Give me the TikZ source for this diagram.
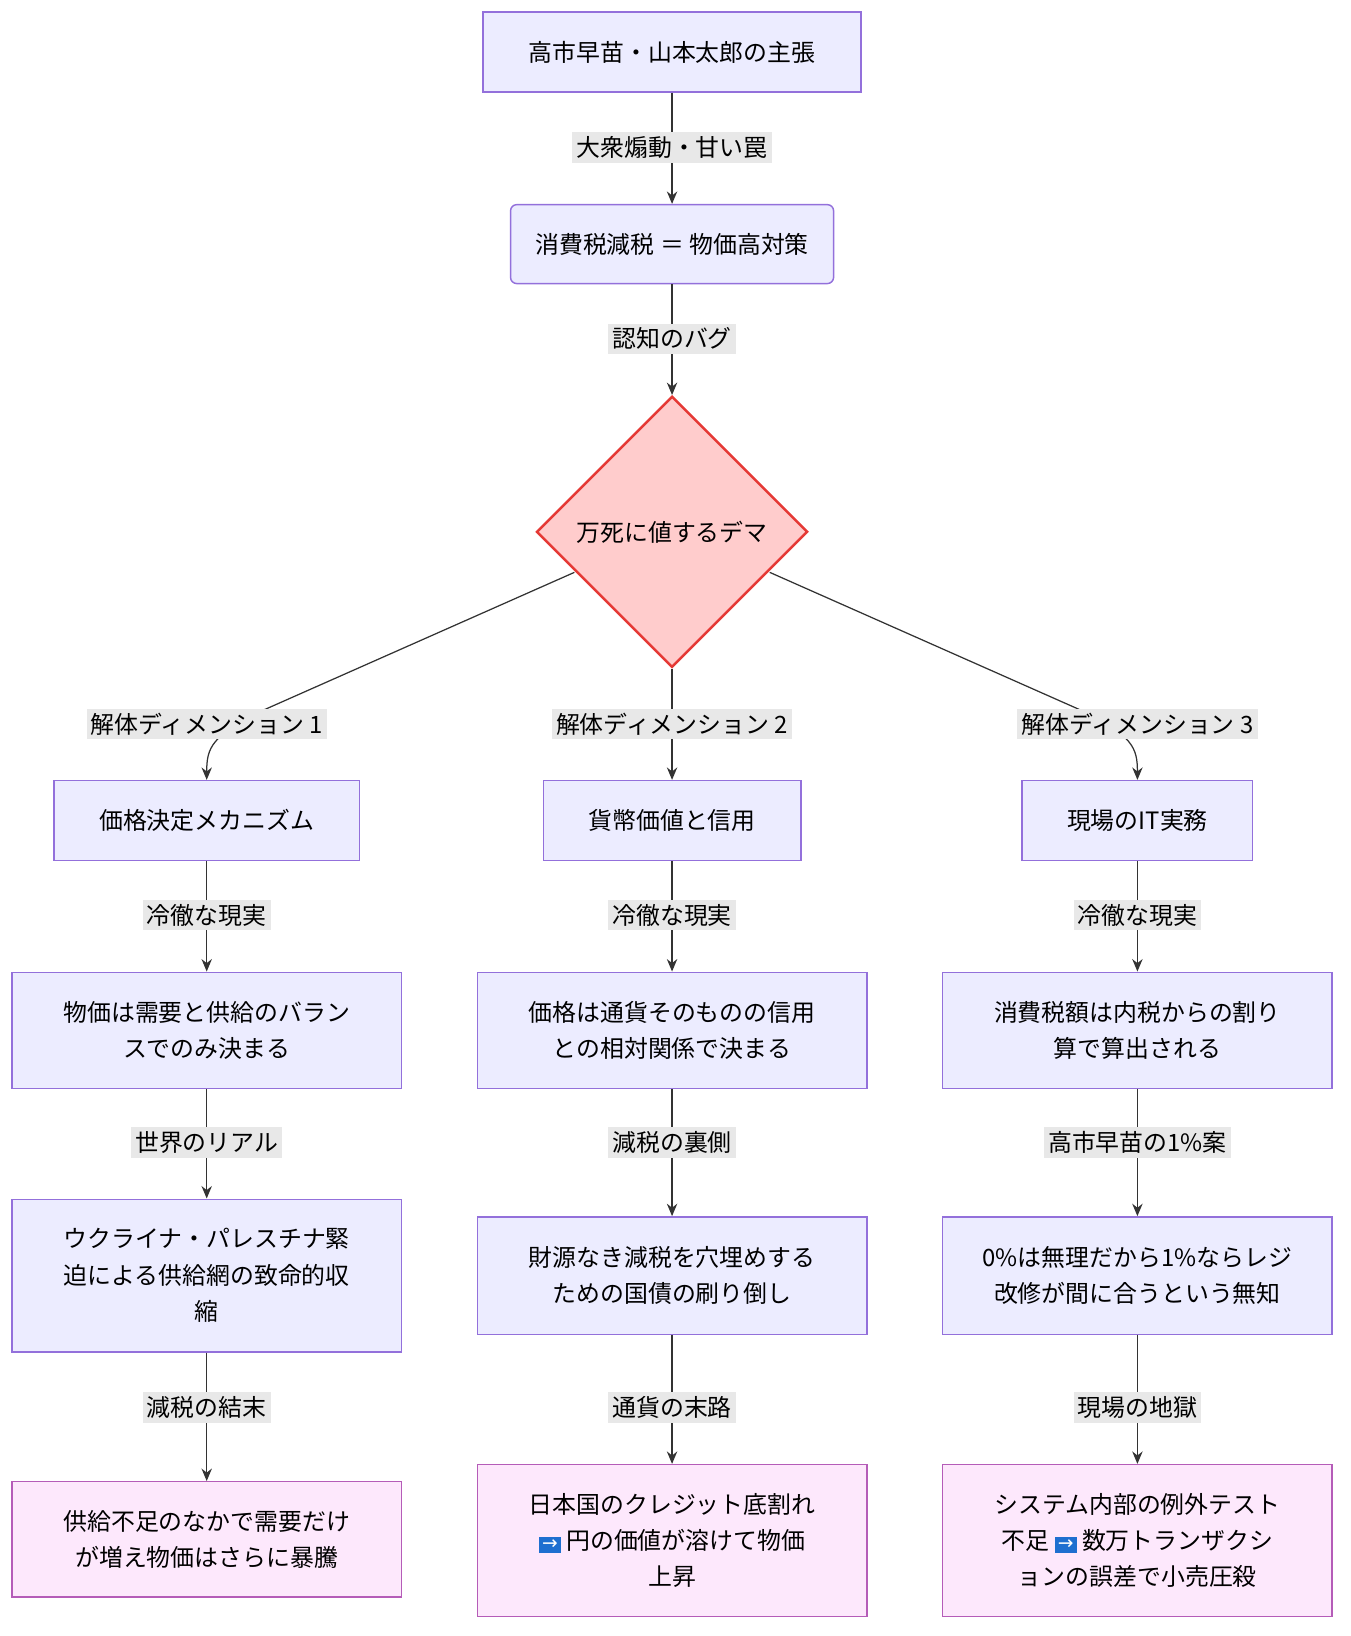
\documentclass[tikz,border=0pt]{standalone}
\usepackage{fontspec}
\setmainfont{Noto Sans CJK JP}
\newfontfamily\dvs{DejaVu Sans}
\usetikzlibrary{shapes.geometric,arrows.meta}
\definecolor{nfill}{HTML}{ECECFF}\definecolor{nline}{HTML}{9370DB}
\definecolor{pfill}{HTML}{FDE8FC}\definecolor{pline}{HTML}{B55CB8}
\definecolor{rfill}{HTML}{FFCCCC}\definecolor{rline}{HTML}{E53935}
\definecolor{lbl}{HTML}{E8E8E8}\definecolor{edge}{HTML}{333333}
\definecolor{emo}{HTML}{1E6FD0}
\newcommand{\arr}{{\setlength{\fboxsep}{1.5pt}\colorbox{emo}{\color{white}\dvs\small →}}}
\tikzset{
 box/.style={draw=nline,fill=nfill,line width=0.7pt,align=center,font=\fontsize{11.5}{17.5}\selectfont,inner sep=0pt},
 pbox/.style={box,draw=pline,fill=pfill},
 lab/.style={fill=lbl,font=\fontsize{11.5}{14}\selectfont,inner sep=2pt},
 e/.style={draw=edge,line width=0.6pt,-{Stealth[length=6pt,width=5pt]}}
}
\begin{document}
\begin{tikzpicture}[x=0.5pt,y=-0.5pt]
\useasboundingbox (0,0) rectangle (1300,1575);
\node[box,minimum width=182pt,minimum height=38.5pt] (a) at (647,50) {高市早苗・山本太郎の主張};
\node[box,rounded corners=3pt,minimum width=155.5pt,minimum height=38pt] (b) at (647,235) {消費税減税 ＝ 物価高対策};
\node[draw=rline,fill=rfill,line width=1.2pt,diamond,minimum width=130.5pt,minimum height=130.5pt,aspect=1,inner sep=0pt,font=\fontsize{11.5}{14}\selectfont] (c) at (647,512) {万死に値するデマ};
\node[box,minimum width=147pt,minimum height=38.5pt] (l1) at (199,790) {価格決定メカニズム};
\node[box,minimum width=124pt,minimum height=38.5pt] (m1) at (647,790) {貨幣価値と信用};
\node[box,minimum width=111pt,minimum height=38.5pt] (r1) at (1095,790) {現場のIT実務};
\node[box,minimum width=187.5pt,minimum height=56pt] (l2) at (199,992) {物価は需要と供給のバラン\\スでのみ決まる};
\node[box,minimum width=187.5pt,minimum height=56pt] (m2) at (647,992) {価格は通貨そのものの信用\\との相対関係で決まる};
\node[box,minimum width=187.5pt,minimum height=56pt] (r2) at (1095,992) {消費税額は内税からの割り\\算で算出される};
\node[box,minimum width=187.5pt,minimum height=73.5pt] (l3) at (199,1228) {ウクライナ・パレスチナ緊\\迫による供給網の致命的収\\縮};
\node[box,minimum width=187.5pt,minimum height=56.5pt] (m3) at (647,1228) {財源なき減税を穴埋めする\\ための国債の刷り倒し};
\node[box,minimum width=187.5pt,minimum height=56.5pt] (r3) at (1095,1228) {0\%は無理だから1\%ならレジ\\改修が間に合うという無知};
\node[pbox,minimum width=187.5pt,minimum height=55.5pt] (l4) at (199,1482) {供給不足のなかで需要だけ\\が増え物価はさらに暴騰};
\node[pbox,minimum width=187.5pt,minimum height=73pt] (m4) at (647,1483) {日本国のクレジット底割れ\\\arr\ 円の価値が溶けて物価\\上昇};
\node[pbox,minimum width=187.5pt,minimum height=73pt] (r4) at (1095,1483) {システム内部の例外テスト\\不足 \arr\ 数万トランザクシ\\ョンの誤差で小売圧殺};
\coordinate (cl) at (553,551); \coordinate (cr) at (741,551);
\draw[e] (a) -- (b); \draw[e] (b) -- (c.north);
\draw[e] (cl) -- (255,683) .. controls (203,708) and (199,720) .. (l1.north);
\draw[e] (c.south) -- (m1.north);
\draw[e] (cr) -- (1039,683) .. controls (1091,708) and (1095,720) .. (r1.north);
\foreach \p/\q in {l1/l2,m1/m2,r1/r2,l2/l3,m2/m3,r2/r3,l3/l4,m3/m4,r3/r4} \draw[e] (\p) -- (\q);
\node[lab] at (647,142) {大衆煽動・甘い罠};
\node[lab] at (647,326) {認知のバグ};
\node[lab] at (199,697) {解体ディメンション 1};
\node[lab] at (647,697) {解体ディメンション 2};
\node[lab] at (1095,697) {解体ディメンション 3};
\foreach \x in {199,647,1095} \node[lab] at (\x,881) {冷徹な現実};
\node[lab] at (199,1100) {世界のリアル};
\node[lab] at (647,1100) {減税の裏側};
\node[lab] at (1095,1100) {高市早苗の1\%案};
\node[lab] at (199,1355) {減税の結末};
\node[lab] at (647,1355) {通貨の末路};
\node[lab] at (1095,1355) {現場の地獄};
\end{tikzpicture}
\end{document}
